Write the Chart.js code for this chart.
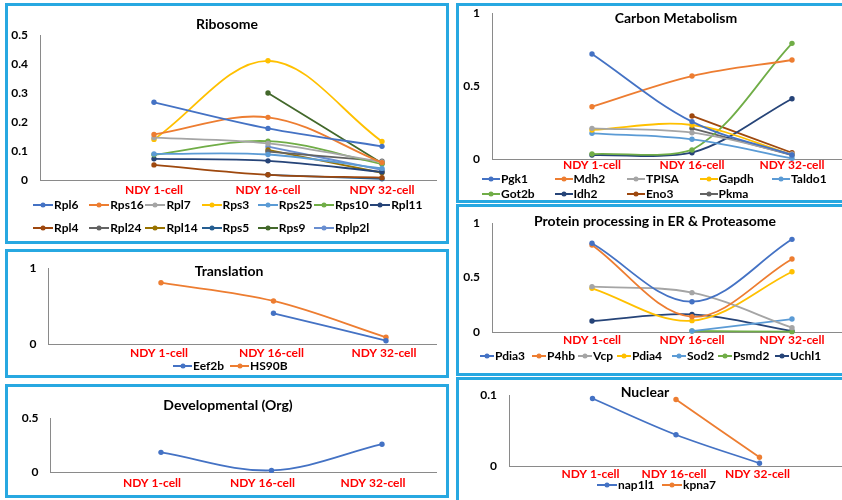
<!DOCTYPE html>
<html><head><meta charset="utf-8">
<script src="https://cdn.jsdelivr.net/npm/chart.js@4.4.1/dist/chart.umd.min.js"></script>
<style>
html,body{margin:0;padding:0;width:842px;height:500px;overflow:hidden;background:#fff;font-family:Lato,'Open Sans',sans-serif;}
.box{position:absolute;box-sizing:border-box;border:3px solid #27A8E1;}
canvas{position:absolute;}
.title{position:absolute;font:bold 14px Lato,sans-serif;color:#000;transform:translate(-50%,-50%);white-space:nowrap;}
.item{position:absolute;font:bold 12px Lato,sans-serif;color:#000;white-space:nowrap;display:flex;align-items:center;transform:translateY(-50%);line-height:14px;}
.key{position:relative;display:inline-block;height:2px;margin-right:1px;}
.key i{position:absolute;left:50%;top:50%;width:5px;height:5px;border-radius:50%;transform:translate(-50%,-50%);}
</style></head><body>
<script>
// ---------- DATA ----------
const categories = ['NDY 1-cell', 'NDY 16-cell', 'NDY 32-cell'];

// Ribosome
const ribosomeNames = ['Rpl6','Rps16','Rpl7','Rps3','Rps25','Rps10','Rpl11','Rpl4','Rpl24','Rpl14','Rps5','Rps9','Rplp2l'];
const rpl6   = [0.268, 0.178, 0.116];
const rps16  = [0.157, 0.216, 0.060];
const rpl7   = [0.146, 0.126, 0.062];
const rps3   = [0.140, 0.411, 0.133];
const rps25  = [0.090, 0.088, 0.040];
const rps10  = [0.087, 0.134, 0.055];
const rpl11  = [0.073, 0.066, 0.028];
const rpl4   = [0.052, 0.018, 0.008];
const rpl24  = [null, 0.098, 0.065];
const rpl14  = [null, 0.104, 0.025];
const rps5   = [null, 0.018, 0.004];
const rps9   = [null, 0.300, 0.058];
const rplp2l = [null, 0.115, 0.035];
const ribosomeTicks = [0, 0.1, 0.2, 0.3, 0.4, 0.5];

// Carbon Metabolism
const carbonNames = ['Pgk1','Mdh2','TPISA','Gapdh','Taldo1','Got2b','Idh2','Eno3','Pkma'];
const pgk1   = [0.719, 0.256, 0.027];
const mdh2   = [0.358, 0.568, 0.678];
const tpisa  = [0.210, 0.180, 0.034];
const gapdh  = [0.199, 0.233, 0.030];
const taldo1 = [0.176, 0.135, 0.005];
const got2b  = [0.034, 0.062, 0.792];
const idh2   = [0.027, 0.043, 0.413];
const eno3   = [null, 0.295, 0.043];
const pkma   = [null, 0.210, 0.027];
const carbonTicks = [0, 0.5, 1];

// Protein processing in ER & Proteasome
const proteinNames = ['Pdia3','P4hb','Vcp','Pdia4','Sod2','Psmd2','Uchl1'];
const pdia3 = [0.814, 0.278, 0.850];
const p4hb  = [0.798, 0.140, 0.670];
const vcp   = [0.416, 0.361, 0.040];
const pdia4 = [0.401, 0.104, 0.553];
const sod2  = [null, 0.009, 0.119];
const psmd2 = [null, 0.009, 0.003];
const uchl1 = [0.101, 0.162, 0.009];
const proteinTicks = [0, 0.5, 1];

// Translation
const translationNames = ['Eef2b','HS90B'];
const eef2b = [null, 0.407, 0.044];
const hs90b = [0.812, 0.570, 0.089];
const translationTicks = [0, 1];

// Developmental (Org)
const developmentalNames = ['Org'];
const org = [0.182, 0.015, 0.257];
const developmentalTicks = [0, 0.5];

// Nuclear
const nuclearNames = ['nap1l1','kpna7'];
const nap1l1 = [0.0957, 0.0443, 0.0039];
const kpna7  = [null, 0.0943, 0.0124];
const nuclearTicks = [0, 0.1];

// ---------- STYLE / LAYOUT ----------
const palette = ['#4472C4','#ED7D31','#A5A5A5','#FFC000','#5B9BD5','#70AD47','#264478','#9E480E','#636363','#997300','#255E91','#43682B','#698ED0'];

const panels = [
  { title:'Ribosome', tx:227, ty:23, box:[5,3,444,241], L:40, T:35, R:436, B:180, step:114, xPad:3, xOff:0,
    ticks:ribosomeTicks, names:ribosomeNames,
    series:[rpl6,rps16,rpl7,rps3,rps25,rps10,rpl11,rpl4,rpl24,rpl14,rps5,rps9,rplp2l],
    legend:{mode:'grid', x:33, y:205, dx:56.2, dy:23.3, cols:7, key:20} },
  { title:'Carbon Metabolism', tx:676, ty:17, box:[456,3,400,200], L:492, T:13, R:842, B:159, step:100, xPad:-1, xOff:0,
    ticks:carbonTicks, names:carbonNames,
    series:[pgk1,mdh2,tpisa,gapdh,taldo1,got2b,idh2,eno3,pkma],
    legend:{mode:'grid', x:482, y:179, dx:72.5, dy:15.3, cols:5, key:18} },
  { title:'Protein processing in ER & Proteasome', tx:655, ty:220, box:[456,204,400,172], L:492, T:223, R:842, B:332, step:100, xPad:1, xOff:0,
    ticks:proteinTicks, names:proteinNames,
    series:[pdia3,p4hb,vcp,pdia4,sod2,psmd2,uchl1],
    legend:{mode:'row', y:356, xs:[480,532,578,617,672,718,775], key:14} },
  { title:'Translation', tx:229, ty:270, box:[5,249,444,129], L:48.5, T:268.5, R:436, B:344, step:112.5, xPad:2, xOff:-2,
    ticks:translationTicks, names:translationNames,
    series:[eef2b,hs90b],
    legend:{mode:'row', y:366, xs:[173,230], key:19} },
  { title:'Developmental (Org)', tx:228, ty:404, box:[5,384,444,114], L:50.5, T:418, R:436, B:472, step:110.5, xPad:4, xOff:-9,
    ticks:developmentalTicks, names:developmentalNames,
    series:[org], legend:null },
  { title:'Nuclear', tx:645, ty:391, box:[456,377,400,140], L:509, T:395.5, R:842, B:466, step:83.5, xPad:1, xOff:-2,
    ticks:nuclearTicks, names:nuclearNames,
    series:[nap1l1,kpna7],
    legend:{mode:'row', y:485, xs:[597,662], key:20} }
];

const FONT = {family:'Lato', weight:'bold', size:12};

function zeroPad(s){ s.paddingLeft = 0; s.paddingRight = 0; s.paddingTop = 0; s.paddingBottom = 0; }

function addLegendItem(name, color, key, x, y){
  const d = document.createElement('div');
  d.className = 'item';
  d.style.left = x + 'px';
  d.style.top = y + 'px';
  const k = document.createElement('span');
  k.className = 'key';
  k.style.width = key + 'px';
  k.style.background = color;
  const dot = document.createElement('i');
  dot.style.background = color;
  k.appendChild(dot);
  d.appendChild(k);
  d.appendChild(document.createTextNode(name));
  document.body.appendChild(d);
}

panels.forEach(p => {
  const [bx, by, bw, bh] = p.box;
  const box = document.createElement('div');
  box.className = 'box';
  Object.assign(box.style, {left:bx+'px', top:by+'px', width:bw+'px', height:bh+'px'});
  document.body.appendChild(box);

  const cv = document.createElement('canvas');
  cv.width = bw; cv.height = bh;
  Object.assign(cv.style, {left:bx+'px', top:by+'px', width:bw+'px', height:bh+'px'});
  document.body.appendChild(cv);

  const yMax = p.ticks[p.ticks.length - 1];
  const datasets = p.series.map((vals, i) => ({
    label: p.names[i],
    data: vals.map((v, j) => ({x: j + 1, y: v})),
    borderColor: palette[i],
    backgroundColor: palette[i],
    borderWidth: 1.8,
    pointRadius: 2.7,
    pointBorderWidth: 0,
    pointHoverRadius: 0,
    tension: 0.35,
    clip: false,
    spanGaps: false
  }));

  const gridOpts = {display:true, drawOnChartArea:false, drawTicks:false, color:'rgba(0,0,0,0)'};
  const borderOpts = {display:true, color:'#8a8a8a', width:1};

  new Chart(cv, {
    type: 'line',
    data: {datasets},
    options: {
      responsive: false, animation: false, events: [],
      layout: {padding: {left:0, top:p.T - by, right:bx + bw - p.R, bottom:0}},
      plugins: {legend:{display:false}, tooltip:{enabled:false}, title:{display:false}},
      scales: {
        x: {
          type:'linear', min:0, max:(p.R - p.L) / p.step,
          afterBuildTicks: s => { s.ticks = categories.map((c, i) => ({value: i + 1})); },
          ticks: {autoSkip:false, maxRotation:0, minRotation:0, padding:p.xPad, labelOffset:p.xOff, color:'#FF0000', font:FONT,
                  callback: v => categories[Math.round(v) - 1] || ''},
          grid: gridOpts, border: borderOpts,
          afterFit: s => { s.height = by + bh - p.B; zeroPad(s); }
        },
        y: {
          type:'linear', min:0, max:yMax,
          afterBuildTicks: s => { s.ticks = p.ticks.map(v => ({value: v})); },
          ticks: {padding:12, color:'#000', font:FONT, callback: v => String(v)},
          grid: gridOpts, border: borderOpts,
          afterFit: s => { s.width = p.L - bx; zeroPad(s); }
        }
      }
    }
  });

  const t = document.createElement('div');
  t.className = 'title';
  t.textContent = p.title;
  t.style.left = p.tx + 'px';
  t.style.top = p.ty + 'px';
  document.body.appendChild(t);

  if (p.legend) {
    const lg = p.legend;
    p.names.forEach((n, i) => {
      let x, y;
      if (lg.mode === 'grid') {
        x = lg.x + (i % lg.cols) * lg.dx;
        y = lg.y + Math.floor(i / lg.cols) * lg.dy;
      } else {
        x = lg.xs[i]; y = lg.y;
      }
      addLegendItem(n, palette[i], lg.key, x, y);
    });
  }
});
</script>
</body></html>
